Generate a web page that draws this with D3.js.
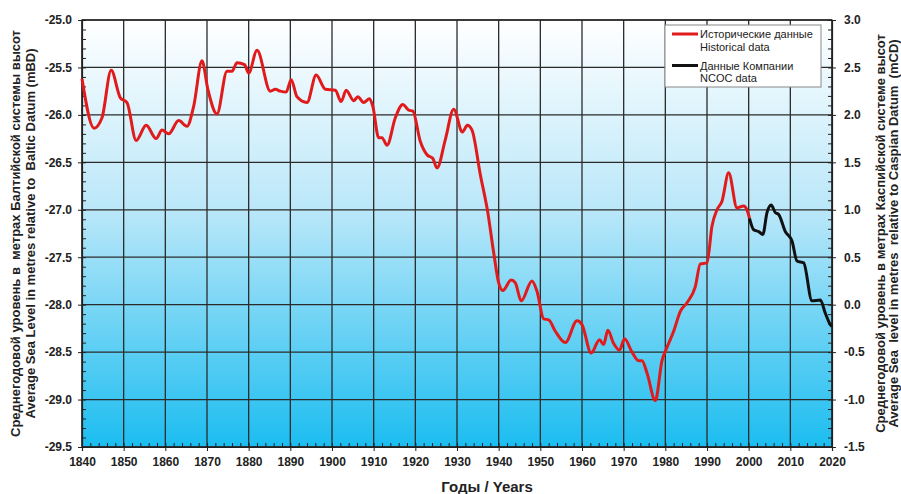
<!DOCTYPE html>
<html>
<head>
<meta charset="utf-8">
<script src="https://cdn.jsdelivr.net/npm/d3@7"></script>
<style>
  body { margin: 0; background: #fff; }
  svg text { font-family: "Liberation Sans", Arial, sans-serif; }
</style>
</head>
<body>
<div id="chart"></div>
<script>
// data
var histYears = [1840, 1842.9, 1844.8, 1847, 1849.2, 1850.8, 1853, 1855.4, 1857.8, 1859.2,
  1860.8, 1863.2, 1865.2, 1866.8, 1868.8, 1870.2, 1872.4, 1874.8, 1876, 1877.2,
  1879, 1880, 1882, 1885.2, 1886.4, 1887.6, 1889, 1890.2, 1891.6, 1894,
  1896.2, 1898.4, 1900.8, 1902.2, 1903.4, 1905.2, 1906.2, 1907.6, 1909, 1909.8,
  1911.2, 1912, 1913.2, 1915.2, 1917, 1918.4, 1919.4, 1921.2, 1922.8, 1924.2,
  1925.2, 1927.2, 1929.2, 1931.3, 1932.5, 1933.6, 1935.6, 1937.4, 1938.8, 1940,
  1941, 1943, 1944, 1945.4, 1948, 1949.2, 1950.8, 1952, 1953.6, 1956,
  1958.8, 1960, 1962.2, 1964.2, 1965.2, 1966.2, 1967.6, 1969, 1970.2, 1972,
  1973.6, 1974.4, 1975.6, 1977.6, 1979.2, 1980.4, 1982, 1983.6, 1985.2, 1987.2,
  1988.4, 1990, 1991.2, 1992.4, 1993.6, 1995.2, 1997.2, 1998.8, 1999.6, 2000.2];
var histLevel = [-25.62, -26.14, -26.03, -25.53, -25.82, -25.87, -26.27, -26.11, -26.25, -26.16,
  -26.20, -26.06, -26.12, -25.91, -25.43, -25.73, -25.99, -25.54, -25.54, -25.45,
  -25.47, -25.56, -25.32, -25.75, -25.73, -25.75, -25.76, -25.63, -25.81, -25.87,
  -25.58, -25.73, -25.74, -25.86, -25.74, -25.85, -25.81, -25.87, -25.83, -25.91,
  -26.24, -26.24, -26.32, -26.03, -25.89, -25.95, -25.96, -26.28, -26.42, -26.46,
  -26.56, -26.26, -25.94, -26.18, -26.11, -26.16, -26.63, -27.03, -27.45, -27.77,
  -27.85, -27.74, -27.77, -27.96, -27.75, -27.86, -28.15, -28.16, -28.28, -28.40,
  -28.17, -28.21, -28.51, -28.37, -28.42, -28.27, -28.41, -28.48, -28.36, -28.50,
  -28.59, -28.59, -28.72, -29.01, -28.59, -28.45, -28.28, -28.07, -27.98, -27.81,
  -27.57, -27.56, -27.17, -27.00, -26.91, -26.61, -26.98, -26.96, -27.00, -27.09];

var ncocYears = [2000.2, 2001.2, 2002.4, 2003.4, 2004.4, 2005.4, 2006.4, 2007.2, 2008.8, 2010.4,
  2011.6, 2013.2, 2015.2, 2017.2, 2018.4, 2019.6, 2020];
var ncocLevel = [-27.09, -27.21, -27.23, -27.26, -27.03, -26.95, -27.03, -27.05, -27.23, -27.33,
  -27.54, -27.56, -27.96, -27.95, -28.09, -28.21, -28.23];

var xTicks = d3.range(1840, 2021, 10);
var leftTicks = d3.range(-29.5, -24.99, 0.5);
var rightTicks = d3.range(-1.5, 3.01, 0.5);
var caspianOffset = 28.0;   // mCD = mBD + 28

var legendNames = [["Исторические данные", "Historical data"], ["Данные Компании", "NCOC data"]];
var legendColors = ["#e11b1b", "#111111"];

function renderChart() {
    var width = 901, height = 494;
    var margin = { top: 20, right: 69, bottom: 47, left: 82 };
    var w = width - margin.left - margin.right,
        h = height - margin.top - margin.bottom;

    var svg = d3.select("#chart").append("svg")
        .attr("width", width)
        .attr("height", height);

    var grad = svg.append("defs").append("linearGradient")
        .attr("id", "bg").attr("x1", 0).attr("y1", 0).attr("x2", 0).attr("y2", 1);
    grad.append("stop").attr("offset", "0%").attr("stop-color", "#ffffff");
    grad.append("stop").attr("offset", "45%").attr("stop-color", "#b9e7f9");
    grad.append("stop").attr("offset", "100%").attr("stop-color", "#1bbdf0");

    var g = svg.append("g").attr("transform", `translate(${margin.left},${margin.top})`);

    var x = d3.scaleLinear().domain([1840, 2020]).range([0, w]);
    var y = d3.scaleLinear().domain([-29.5, -25.0]).range([h, 0]);
    var y2 = d3.scaleLinear().domain([-29.5 + caspianOffset, -25.0 + caspianOffset]).range([h, 0]);

    g.append("rect").attr("width", w).attr("height", h).attr("fill", "url(#bg)");

    // grid
    g.append("g").selectAll("line").data(xTicks).join("line")
        .attr("x1", d => x(d)).attr("x2", d => x(d)).attr("y1", 0).attr("y2", h)
        .attr("stroke", "#2b2b2b").attr("stroke-width", 1.3);
    g.append("g").selectAll("line").data(leftTicks).join("line")
        .attr("x1", 0).attr("x2", w).attr("y1", d => y(d)).attr("y2", d => y(d))
        .attr("stroke", "#2b2b2b").attr("stroke-width", 1.3);

    // axes
    function styleAxis(sel) {
        sel.selectAll("text").attr("font-size", 12).attr("font-weight", "bold").attr("fill", "#222");
        sel.selectAll("line").attr("stroke", "#222");
        sel.select(".domain").attr("stroke", "#222").attr("stroke-width", 1.2);
    }
    var fmt = d => d.toFixed(1);

    // minor ticks (inside)
    g.append("g").attr("transform", `translate(0,${h})`)
        .call(d3.axisBottom(x).tickValues(d3.range(1840, 2021, 2)).tickSize(-4).tickFormat(""))
        .call(styleAxis).select(".domain").remove();
    g.append("g")
        .call(d3.axisLeft(y).tickValues(d3.range(-29.5, -24.99, 0.1)).tickSize(-4).tickFormat(""))
        .call(styleAxis).select(".domain").remove();
    g.append("g").attr("transform", `translate(${w},0)`)
        .call(d3.axisRight(y2).tickValues(d3.range(-1.5, 3.01, 0.1)).tickSize(-4).tickFormat(""))
        .call(styleAxis).select(".domain").remove();

    g.append("g").attr("transform", `translate(0,${h})`)
        .call(d3.axisBottom(x).tickValues(xTicks).tickSize(4).tickPadding(6).tickFormat(d3.format("d")))
        .call(styleAxis);
    g.append("g")
        .call(d3.axisLeft(y).tickValues(leftTicks).tickSize(4).tickPadding(6).tickFormat(fmt))
        .call(styleAxis);
    g.append("g").attr("transform", `translate(${w},0)`)
        .call(d3.axisRight(y2).tickValues(rightTicks).tickSize(4).tickPadding(8).tickFormat(fmt))
        .call(styleAxis);

    g.append("rect").attr("width", w).attr("height", h)
        .attr("fill", "none").attr("stroke", "#222").attr("stroke-width", 1.2);

    // lines
    var line = d3.line().x(d => x(d[0])).y(d => y(d[1])).curve(d3.curveMonotoneX);
    g.append("path").datum(d3.zip(histYears, histLevel))
        .attr("fill", "none").attr("stroke", legendColors[0]).attr("stroke-width", 3)
        .attr("stroke-linejoin", "round").attr("d", line);
    g.append("path").datum(d3.zip(ncocYears, ncocLevel))
        .attr("fill", "none").attr("stroke", legendColors[1]).attr("stroke-width", 3)
        .attr("stroke-linejoin", "round").attr("d", line);

    // legend
    var lg = svg.append("g").attr("transform", "translate(665,25)");
    lg.append("rect").attr("width", 156).attr("height", 62)
        .attr("fill", "#fff").attr("stroke", "#888").attr("stroke-width", 1);
    legendNames.forEach(function (names, i) {
        var yy = 9 + i * 31.5;
        lg.append("line").attr("x1", 7).attr("x2", 33).attr("y1", yy).attr("y2", yy)
            .attr("stroke", legendColors[i]).attr("stroke-width", 3);
        names.forEach(function (t, j) {
            lg.append("text").attr("x", 35).attr("y", yy + 4 + j * 12.5)
                .attr("font-size", 11).attr("fill", "#222").text(t);
        });
    });

    // axis titles
    svg.append("text").attr("x", 487).attr("y", 492).attr("text-anchor", "middle")
        .attr("font-size", 15).attr("font-weight", "bold").attr("fill", "#222").text("Годы / Years");

    var cy = margin.top + h / 2;
    var leftTitle = ["Среднегодовой уровень в  метрах Балтийской системы высот",
        "Average Sea Level in metres relative to  Baltic Datum (mBD)"];
    var rightTitle = ["Среднегодовой уровень в метрах Каспийской системе высот",
        "Average Sea  level in metres  relative to Caspian Datum  (mCD)"];
    [[20, leftTitle[0]], [35, leftTitle[1]], [885, rightTitle[0]], [898, rightTitle[1]]].forEach(function (d) {
        svg.append("text").attr("transform", `translate(${d[0]},${cy}) rotate(-90)`)
            .attr("text-anchor", "middle").attr("font-size", 13).attr("font-weight", "bold")
            .attr("fill", "#222").attr("xml:space", "preserve").style("white-space", "pre").text(d[1]);
    });
}

document.addEventListener("DOMContentLoaded", function () {
    renderChart();
});
</script>
</body>
</html>
